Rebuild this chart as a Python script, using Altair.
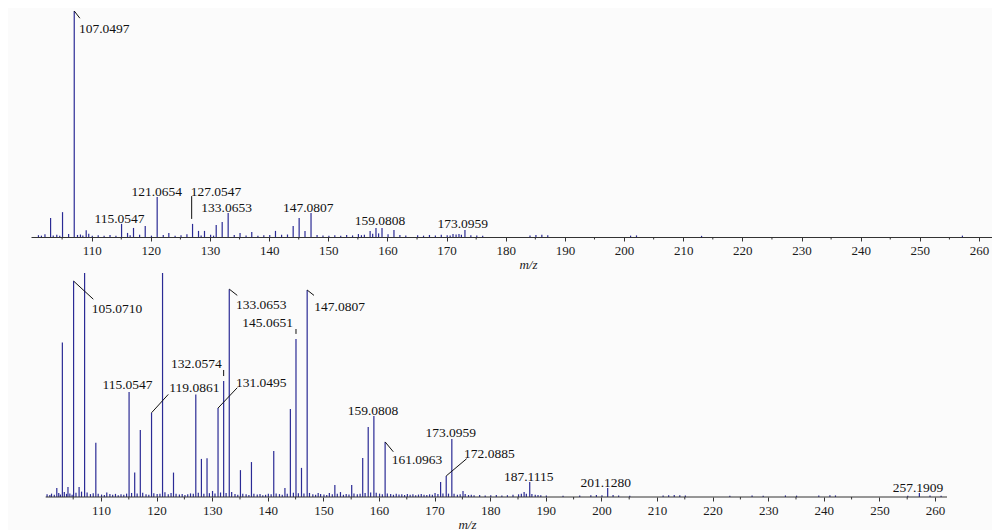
import altair as alt
import pandas as pd

BLUE = "#2b2b95"
AXC = "#333333"
FONT = "Liberation Serif"

# ---------------- top spectrum (relative intensity, %) ----------------
top_mz = [103.05, 105.07, 107.05, 109.07, 115.05, 116.06, 117.07, 119.05, 121.07,
          123.04, 127.05, 128.06, 129.07, 131.05, 132.06, 133.07, 135.08, 137.06,
          141.07, 144.06, 145.07, 146.06, 147.08, 155.09, 157.07, 158.06, 159.08,
          161.10, 171.08, 172.09, 173.10]
top_int = [8.4, 11.0, 100.0, 3.0, 5.8, 1.8, 4.0, 4.9, 17.7,
           1.8, 5.8, 2.7, 2.7, 5.3, 6.6, 10.6, 1.8, 2.2,
           2.7, 4.9, 8.4, 2.7, 10.6, 1.3, 2.7, 4.0, 4.0,
           3.1, 1.3, 1.3, 3.1]
top_noise_mz = [101.0, 101.5, 102.1, 103.5, 104.1, 104.6, 106.1, 107.6, 108.1, 108.5,
                109.5, 110.1, 111.1, 112.1, 113.1, 114.1, 116.5, 118.1, 120.1, 122.1,
                124.1, 125.1, 126.1, 128.5, 130.1, 130.6, 134.1, 136.1, 138.1, 139.1,
                140.1, 142.1, 143.1, 148.1, 149.1, 150.1, 151.1, 152.1, 153.1, 154.1,
                155.6, 156.1, 157.5, 158.5, 160.1, 162.1, 163.1, 165.1, 166.1, 167.1,
                168.1, 169.1, 170.1, 170.6, 171.6, 172.5, 174.1, 175.1, 176.1, 184.1,
                185.1, 186.1, 187.1, 201.1, 202.1, 213.1, 257.2]
top_noise_int = [0.8, 0.6, 1.2, 0.7, 1.0, 0.6, 1.3, 0.9, 1.1, 0.7,
                 1.4, 0.6, 0.8, 0.5, 0.9, 0.6, 0.8, 1.0, 0.6, 0.9,
                 0.5, 0.8, 1.2, 0.7, 1.0, 0.6, 0.9, 0.7, 0.6, 0.8,
                 0.9, 1.0, 1.1, 0.9, 0.7, 0.6, 0.8, 0.6, 0.9, 0.7,
                 0.8, 1.0, 1.4, 1.6, 1.2, 0.9, 0.7, 0.8, 0.6, 0.9,
                 0.7, 1.0, 0.8, 0.7, 1.1, 1.0, 0.8, 0.7, 0.6, 0.7,
                 0.9, 1.0, 0.8, 0.6, 0.7, 0.5, 0.6]

top_lab_text = ["107.0497", "115.0547", "121.0654", "127.0547", "133.0653",
                "147.0807", "159.0808", "173.0959"]
top_lab_x = [107.85, 114.7, 121.0, 126.74, 132.82, 146.62, 158.74, 172.72]
top_lab_y = [92.0, 7.8, 20.0, 20.0, 13.0, 13.0, 7.1, 5.9]
top_lab_align = ["left", "center", "center", "left", "center", "center", "center", "center"]
top_lead_x = [107.05, 126.9]
top_lead_y = [100.0, 8.0]
top_lead_x2 = [108.0, 126.9]
top_lead_y2 = [96.8, 18.1]

# ---------------- bottom spectrum (relative intensity, %) ----------------
bot_mz = [102.05, 103.05, 104.06, 105.07, 106.06, 107.05, 109.07, 111.04, 115.05,
          116.06, 117.07, 119.09, 121.07, 123.04, 127.05, 128.06, 129.07, 130.06,
          131.05, 132.06, 133.07, 135.08, 137.06, 141.07, 143.08, 144.06, 145.07,
          146.06, 147.08, 149.06, 151.07, 152.06, 153.07, 155.09, 157.07, 158.06,
          159.08, 161.10, 170.08, 171.08, 172.09, 173.10, 175.11, 186.10, 187.11,
          201.13, 257.19]
bot_int = [4.0, 69.0, 4.5, 96.4, 4.5, 130.0, 24.2, 2.0, 46.9,
           10.9, 29.9, 37.6, 130.0, 10.9, 45.8, 17.0, 17.3, 2.7,
           39.7, 51.8, 92.8, 12.0, 15.6, 20.5, 4.0, 39.3, 70.5,
           13.0, 92.4, 1.8, 1.8, 5.4, 2.2, 5.4, 17.4, 31.2,
           36.2, 24.6, 1.8, 6.7, 9.4, 25.9, 2.7, 2.2, 6.7,
           4.0, 1.8]
bot_noise_mz = [100.3, 100.8, 101.1, 101.6, 102.4, 102.7, 103.4, 103.8, 104.4, 104.8,
                105.5, 106.5, 107.5, 108.1, 108.6, 109.5, 110.1, 110.6, 111.6, 112.1,
                112.6, 113.1, 113.6, 114.1, 114.6, 115.5, 116.5, 117.5, 118.1, 118.6,
                119.5, 120.1, 120.6, 121.5, 122.1, 122.6, 123.5, 124.1, 124.6, 125.1,
                125.6, 126.1, 126.6, 127.5, 128.5, 129.5, 130.5, 131.5, 132.5, 133.5,
                134.1, 134.6, 135.5, 136.1, 136.6, 137.5, 138.1, 138.6, 139.1, 139.6,
                140.1, 140.6, 141.5, 142.1, 142.6, 143.5, 144.6, 145.5, 146.5, 147.5,
                148.1, 148.6, 149.5, 150.1, 150.6, 151.6, 152.5, 153.6, 154.1, 154.6,
                155.5, 156.1, 156.6, 157.5, 158.5, 159.5, 160.1, 160.6, 161.5, 162.1,
                162.6, 163.1, 163.6, 164.1, 164.6, 165.1, 165.6, 166.1, 166.6, 167.1,
                167.6, 168.1, 168.6, 169.1, 169.6, 170.6, 171.5, 172.5, 173.5, 174.1,
                174.6, 175.5, 176.1, 176.6, 177.1, 178.1, 179.1, 180.1, 181.1, 182.1,
                183.1, 184.1, 185.1, 185.6, 186.5, 187.5, 188.1, 188.6, 189.1, 190.1,
                193.1, 196.1, 198.1, 199.1, 200.1, 202.1, 203.1, 205.1, 211.1, 212.1,
                213.1, 214.1, 215.1, 223.1, 227.1, 229.1, 233.1, 235.1, 239.1, 241.1,
                242.1, 255.1, 259.1, 261.1]
bot_noise_int = [1.2, 0.9, 1.5, 1.0, 1.8, 1.1, 2.2, 1.4, 1.6, 1.0,
                 1.9, 2.4, 2.0, 1.3, 1.7, 1.5, 1.1, 0.9, 1.3, 1.0,
                 1.4, 0.8, 1.2, 1.0, 1.5, 1.8, 1.6, 1.9, 1.2, 1.0,
                 1.7, 1.3, 1.5, 2.1, 1.2, 1.8, 1.4, 1.1, 1.3, 0.9,
                 1.2, 1.6, 1.4, 1.9, 1.5, 1.7, 1.6, 2.0, 1.8, 2.2,
                 1.3, 1.0, 1.4, 1.2, 0.9, 1.5, 1.1, 1.3, 0.8, 1.0,
                 1.4, 1.2, 1.6, 1.3, 1.0, 1.5, 1.9, 1.7, 1.6, 1.8,
                 1.2, 1.0, 1.3, 1.1, 0.9, 1.2, 1.5, 1.0, 1.3, 1.1,
                 1.6, 1.2, 1.4, 1.8, 2.0, 1.9, 1.5, 1.2, 1.6, 1.3,
                 1.0, 1.4, 1.1, 1.2, 0.9, 1.3, 1.0, 1.2, 0.8, 1.1,
                 1.3, 1.0, 0.9, 1.2, 1.0, 1.3, 1.6, 1.5, 1.4, 1.0,
                 1.2, 1.3, 0.9, 1.0, 0.8, 0.9, 0.7, 0.8, 0.9, 0.7,
                 0.8, 1.0, 1.2, 1.4, 1.5, 1.3, 1.0, 0.9, 0.8, 0.7,
                 0.6, 0.7, 0.8, 0.9, 0.8, 0.9, 0.7, 0.6, 0.7, 0.8,
                 0.9, 0.8, 0.7, 0.6, 0.7, 0.6, 0.7, 0.6, 0.7, 0.8,
                 0.7, 0.6, 0.7, 0.6]

bot_lab_text = ["105.0710", "133.0653", "147.0807", "145.0651", "132.0574",
                "131.0495", "119.0861", "115.0547", "159.0808", "161.0963",
                "173.0959", "172.0885", "187.1115", "201.1280", "257.1909"]
bot_lab_x = [108.33, 134.28, 148.36, 144.53, 131.71,
             134.28, 122.28, 114.77, 158.92, 162.28,
             172.91, 175.29, 186.94, 200.79, 256.94]
bot_lab_y = [83.8, 85.6, 85.0, 77.5, 59.2,
             50.8, 48.8, 49.9, 38.4, 16.4,
             28.4, 19.3, 8.9, 6.1, 3.9]
bot_lab_align = ["left", "left", "left", "right", "right",
                 "left", "left", "center", "center", "left",
                 "center", "left", "center", "center", "center"]
bot_lead_x = [105.07, 133.07, 147.08, 145.07, 132.06, 131.05, 119.09, 161.10, 172.09]
bot_lead_y = [96.4, 92.8, 92.4, 72.8, 54.0, 39.7, 37.6, 24.6, 9.4]
bot_lead_x2 = [108.62, 134.51, 148.31, 145.07, 132.06, 134.51, 122.1, 162.57, 175.77]
bot_lead_y2 = [88.3, 90.0, 90.0, 75.0, 56.7, 48.8, 45.8, 20.2, 17.1]

major_ticks = [110, 120, 130, 140, 150, 160, 170, 180, 190, 200, 210, 220, 230, 240, 250, 260]
minor_ticks = [105, 115, 125, 135, 145, 155, 165, 175, 185, 195, 205, 215, 225, 235, 245, 255]
minor_tick_depth = -1.1  # in intensity units, below the baseline

top_domain = [99.74, 262.2]
bot_domain = [97.41, 262.16]
bot_axis_span = [100.05, 262.16]


def make_axis(show_domain, title_x, title_pad):
    return alt.Axis(
        values=major_ticks,
        format="d",
        labelOverlap=False, labelFlush=False,
        tickSize=4, tickColor=AXC, tickWidth=1,
        domain=show_domain, domainColor=AXC, domainWidth=1,
        grid=False,
        labelFont=FONT, labelFontSize=13, labelColor="#1a1a1a", labelPadding=3,
        title="m/z", titleFont=FONT, titleFontSize=13, titleFontStyle="italic",
        titleFontWeight="normal", titleColor="#1a1a1a", titlePadding=title_pad,
        titleX=title_x,
    )


def panel(mz, inten, nmz, nint, lab_text, lab_x, lab_y, lab_align,
          lx, ly, lx2, ly2, domain, width, height, show_domain, title_x, title_pad,
          span=None):
    peaks = pd.DataFrame({"mz": list(mz) + [a for a, b in zip(nmz, nint)],
                          "inten": list(inten) + [b for a, b in zip(nmz, nint)]})
    labels = pd.DataFrame({"text": lab_text, "x": lab_x, "y": lab_y, "align": lab_align})
    leads = pd.DataFrame({"x": lx, "y": ly, "x2": lx2, "y2": ly2})
    minors = pd.DataFrame({"v": minor_ticks, "d": [minor_tick_depth] * len(minor_ticks)})
    xs = alt.Scale(domain=domain, nice=False, zero=False)
    ys = alt.Scale(domain=[0, 100], nice=False, zero=True)

    base = alt.Chart(peaks).mark_rule(color=BLUE, strokeWidth=1.2, clip=True).encode(
        x=alt.X("mz:Q", scale=xs, axis=make_axis(show_domain, title_x, title_pad)),
        y=alt.Y("inten:Q", scale=ys, axis=None),
        y2=alt.datum(0),
    )
    layers = [base]
    if span is not None:
        layers.append(
            alt.Chart(pd.DataFrame({"a": [span[0]], "b": [span[1]]})).mark_rule(
                color=AXC, strokeWidth=1).encode(
                x=alt.X("a:Q", scale=xs), x2="b:Q", y=alt.datum(0))
        )
    layers.append(
        alt.Chart(minors).mark_rule(color=AXC, strokeWidth=1).encode(
            x=alt.X("v:Q", scale=xs), y=alt.Y("d:Q", scale=ys), y2=alt.datum(0))
    )
    layers.append(
        alt.Chart(leads).mark_rule(color="#111111", strokeWidth=1).encode(
            x=alt.X("x:Q", scale=xs), y=alt.Y("y:Q", scale=ys), x2="x2:Q", y2="y2:Q")
    )
    for al in ["left", "center", "right"]:
        layers.append(
            alt.Chart(labels).transform_filter(alt.datum.align == al).mark_text(
                align=al, baseline="middle", font=FONT, fontSize=13.5, color="#111111"
            ).encode(x=alt.X("x:Q", scale=xs), y=alt.Y("y:Q", scale=ys), text="text:N")
        )
    return alt.layer(*layers).properties(width=width, height=height)


top = panel(top_mz, top_int, top_noise_mz, top_noise_int, top_lab_text, top_lab_x,
            top_lab_y, top_lab_align, top_lead_x, top_lead_y, top_lead_x2, top_lead_y2,
            top_domain, 961, 226, True, 497, 1)
bottom = panel(bot_mz, bot_int, bot_noise_mz, bot_noise_int, bot_lab_text, bot_lab_x,
               bot_lab_y, bot_lab_align, bot_lead_x, bot_lead_y, bot_lead_x2, bot_lead_y2,
               bot_domain, 916, 224, False, 436, 1, span=bot_axis_span)

chart = alt.vconcat(top, bottom, spacing=2).properties(
    padding={"left": 23, "top": 2, "right": 0, "bottom": 0},
    background="#fbfbfb",
).configure_view(strokeWidth=0)

chart.save("out.html", embed_options={"renderer": "svg", "actions": False})
